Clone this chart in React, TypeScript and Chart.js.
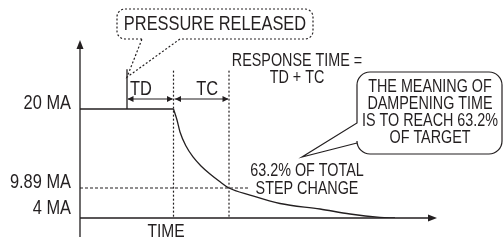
import React, { useEffect, useRef } from 'react';
import { Chart, LinearScale, registerables } from 'chart.js';

// ---------------- data ----------------
const Y_TICK_VALUES = [4, 9.89, 20];
const Y_TICK_LABELS = ['4 MA', '9.89 MA', '20 MA'];
const Y_MIN = 3;
const Y_MAX = 29;
const X_MIN = 0;
const X_MAX = 7.14;

const HIGH_MA = 20;
const TARGET_MA = 9.89;
const T_RELEASE = 0.94;
const T_TD_END = 1.87;
const T_TC_END = 2.98;
const T_TARGET_LINE_END = 3.36;
const MARKER_TOP_MA = 25.2;
const DIM_ARROW_MA = 21.3;

const FLAT_TIME = [0, 1.87];
const FLAT_MA = [20, 20];
const DECAY_TIME = [1.87, 1.94, 2.0, 2.12, 2.26, 2.42, 2.6, 2.78, 2.98, 3.4, 4.0, 4.8, 5.4, 6.0, 6.3];
const DECAY_MA = [20, 18.59, 17.06, 15.26, 13.86, 12.71, 11.68, 10.79, 9.89, 8.3, 6.38, 5.13, 4.0, 3.18, 3.0];

const BUBBLE_LINES = ['THE MEANING OF', 'DAMPENING TIME', 'IS TO REACH 63.2%', 'OF TARGET'];
const STEP_LINES = ['63.2% OF TOTAL', 'STEP CHANGE'];
const RESPONSE_LINES = ['RESPONSE TIME =', 'TD + TC'];

// ---------------- styling / schematic scale ----------------
const FONT = "'Liberation Sans', Arial, sans-serif";
const NARROW = 0.82; // condensed face emulation
const INK = '#231f20';
const KNOT_VALUES = [3, 4, 9.89, 20, 29];
const KNOT_FRACS = [0, 4 / 178, 30 / 178, 109 / 178, 1];

function valueToFrac(v: number) {
  const n = KNOT_VALUES.length;
  if (v <= KNOT_VALUES[0]) return KNOT_FRACS[0] + (v - KNOT_VALUES[0]) * (KNOT_FRACS[1] - KNOT_FRACS[0]) / (KNOT_VALUES[1] - KNOT_VALUES[0]);
  for (let i = 1; i < n; i++) {
    if (v <= KNOT_VALUES[i] || i === n - 1) {
      const t = (v - KNOT_VALUES[i - 1]) / (KNOT_VALUES[i] - KNOT_VALUES[i - 1]);
      return KNOT_FRACS[i - 1] + t * (KNOT_FRACS[i] - KNOT_FRACS[i - 1]);
    }
  }
  return 1;
}
function fracToValue(f: number) {
  const n = KNOT_FRACS.length;
  for (let i = 1; i < n; i++) {
    if (f <= KNOT_FRACS[i] || i === n - 1) {
      const t = (f - KNOT_FRACS[i - 1]) / (KNOT_FRACS[i] - KNOT_FRACS[i - 1]);
      return KNOT_VALUES[i - 1] + t * (KNOT_VALUES[i] - KNOT_VALUES[i - 1]);
    }
  }
  return KNOT_VALUES[n - 1];
}

class SchematicScale extends LinearScale {
  static id = 'schematic';
  static defaults = LinearScale.defaults;
  getPixelForValue(value: any) {
    if (value === null || value === undefined || isNaN(value)) return NaN;
    return this.getPixelForDecimal(valueToFrac(value));
  }
  getValueForPixel(pixel: number) {
    return fracToValue(this.getDecimalForPixel(pixel));
  }
}

Chart.register(...registerables, SchematicScale as any);

function pts(xs: number[], ys: number[]) {
  return xs.map((x, i) => ({ x, y: ys[i] }));
}

function arrowHead(ctx: CanvasRenderingContext2D, tx: number, ty: number, dx: number, dy: number, len: number, half: number) {
  const px = -dy, py = dx;
  ctx.beginPath();
  ctx.moveTo(tx, ty);
  ctx.lineTo(tx - dx * len + px * half, ty - dy * len + py * half);
  ctx.lineTo(tx - dx * len - px * half, ty - dy * len - py * half);
  ctx.closePath();
  ctx.fill();
}

function text(ctx: CanvasRenderingContext2D, s: string, x: number, y: number, size: number, align: CanvasTextAlign = 'center') {
  ctx.save();
  ctx.font = `${size}px ${FONT}`;
  ctx.textAlign = align;
  ctx.textBaseline = 'middle';
  ctx.translate(x, y);
  ctx.scale(NARROW, 1);
  ctx.fillText(s, 0, 0);
  ctx.restore();
}

const diagramPlugin = {
  id: 'diagram',
  afterDatasetsDraw(chart: any) {
    const { ctx, chartArea: a, scales } = chart;
    const xs = scales.x, ys = scales.y;
    ctx.save();
    ctx.strokeStyle = INK;
    ctx.fillStyle = INK;
    ctx.lineWidth = 1.3;
    ctx.setLineDash([]);

    // y tick labels (condensed), positioned by the y scale
    ys.ticks.forEach((t: any, i: number) => {
      text(ctx, Y_TICK_LABELS[i], a.left - 9, ys.getPixelForValue(t.value) - 6, 20, 'right');
    });

    // axes
    ctx.beginPath();
    ctx.moveTo(a.left, a.top + 4);
    ctx.lineTo(a.left, a.bottom + 19);
    ctx.moveTo(a.left, a.bottom);
    ctx.lineTo(a.right - 4, a.bottom);
    ctx.stroke();
    arrowHead(ctx, a.left, a.top, 0, -1, 9, 3.5);
    arrowHead(ctx, a.right, a.bottom, 1, 0, 9, 3.5);

    // dimension arrows TD / TC
    const yDim = ys.getPixelForValue(DIM_ARROW_MA);
    const xR = xs.getPixelForValue(T_RELEASE);
    const xD = xs.getPixelForValue(T_TD_END);
    const xC = xs.getPixelForValue(T_TC_END);
    ctx.lineWidth = 1.1;
    ctx.beginPath();
    ctx.moveTo(xR + 1, yDim);
    ctx.lineTo(xD - 1, yDim);
    ctx.moveTo(xD + 1, yDim);
    ctx.lineTo(xC - 1, yDim);
    ctx.stroke();
    arrowHead(ctx, xR + 0.5, yDim, -1, 0, 6, 3);
    arrowHead(ctx, xD - 0.5, yDim, 1, 0, 6, 3);
    arrowHead(ctx, xD + 1.5, yDim, -1, 0, 6, 3);
    arrowHead(ctx, xC - 0.5, yDim, 1, 0, 6, 3);

    text(ctx, 'TD', xR + 14, yDim - 10, 20);
    text(ctx, 'TC', (xD + xC) / 2 + 6, yDim - 10, 20);

    // PRESSURE RELEASED dotted callout
    {
      const L = 117, R = 313, T = 9, B = 39, r = 8;
      const tipX = xR, tipY = ys.getPixelForValue(MARKER_TOP_MA) + 8;
      ctx.setLineDash([2, 2]);
      ctx.lineWidth = 1.2;
      ctx.beginPath();
      ctx.moveTo(142, B);
      ctx.lineTo(L + r, B);
      ctx.arcTo(L, B, L, B - r, r);
      ctx.lineTo(L, T + r);
      ctx.arcTo(L, T, L + r, T, r);
      ctx.lineTo(R - r, T);
      ctx.arcTo(R, T, R, T + r, r);
      ctx.lineTo(R, B - r);
      ctx.arcTo(R, B, R - r, B, r);
      ctx.lineTo(180, B);
      ctx.lineTo(tipX, tipY);
      ctx.lineTo(142, B);
      ctx.stroke();
      ctx.setLineDash([]);
      text(ctx, 'PRESSURE RELEASED', (L + R) / 2, 24, 20);
    }

    // response time text
    text(ctx, RESPONSE_LINES[0], 297, 61, 17.5);
    text(ctx, RESPONSE_LINES[1], 297, 78, 17.5);

    // speech bubble
    {
      const L = 357, R = 502, T = 72, B = 154, r = 13;
      const tipX = 302, tipY = 157;
      ctx.lineWidth = 1.2;
      ctx.beginPath();
      ctx.moveTo(L, 143);
      ctx.lineTo(L, B - r);
      ctx.arcTo(L, B, L + r, B, r);
      ctx.lineTo(R - r, B);
      ctx.arcTo(R, B, R, B - r, r);
      ctx.lineTo(R, T + r);
      ctx.arcTo(R, T, R - r, T, r);
      ctx.lineTo(L + r, T);
      ctx.arcTo(L, T, L, T + r, r);
      ctx.lineTo(L, 123);
      ctx.lineTo(tipX, tipY);
      ctx.lineTo(L, 143);
      ctx.stroke();
      BUBBLE_LINES.forEach((s, i) => text(ctx, s, 430, 87 + i * 17, 17.5));
    }

    // step change text
    STEP_LINES.forEach((s, i) => text(ctx, s, 307, 171 + i * 18.5, 17.5));

    // x axis title
    text(ctx, 'TIME', 166, 232, 19);
    ctx.restore();
  },
};

export default function App() {
  const ref = useRef<HTMLCanvasElement | null>(null);
  useEffect(() => {
    if (!ref.current) return;
    const lineBase = { borderColor: INK, pointRadius: 0, fill: false, tension: 0 };
    const chart = new Chart(ref.current, {
      type: 'line',
      data: {
        datasets: [
          { ...lineBase, label: 'before', data: pts(FLAT_TIME, FLAT_MA), borderWidth: 1.4 },
          { ...lineBase, label: 'decay', data: pts(DECAY_TIME, DECAY_MA), borderWidth: 1.3, cubicInterpolationMode: 'monotone' },
          { ...lineBase, label: 'target', data: [{ x: X_MIN, y: TARGET_MA }, { x: T_TARGET_LINE_END, y: TARGET_MA }], borderWidth: 1.2, borderDash: [3, 2] },
          { ...lineBase, label: 'td', data: [{ x: T_TD_END, y: MARKER_TOP_MA - 0.2 }, { x: T_TD_END, y: Y_MIN }], borderWidth: 1.2, borderDash: [2, 2] },
          { ...lineBase, label: 'tc', data: [{ x: T_TC_END, y: MARKER_TOP_MA - 0.2 }, { x: T_TC_END, y: Y_MIN }], borderWidth: 1.2, borderDash: [2, 2] },
          { ...lineBase, label: 'release', data: [{ x: T_RELEASE, y: HIGH_MA }, { x: T_RELEASE, y: MARKER_TOP_MA }], borderWidth: 1.3 },
        ] as any,
      },
      options: {
        animation: false,
        responsive: false,
        devicePixelRatio: 1,
        layout: { padding: { left: 0, top: 40, right: 66, bottom: 22 } },
        plugins: { legend: { display: false }, tooltip: { enabled: false } },
        scales: {
          x: { type: 'linear', min: X_MIN, max: X_MAX, display: false },
          y: {
            type: 'schematic' as any,
            min: Y_MIN,
            max: Y_MAX,
            grid: { display: false, drawTicks: false },
            border: { display: false },
            afterFit: (s: any) => { s.width = 80; },
            afterBuildTicks: (s: any) => { s.ticks = Y_TICK_VALUES.map((v) => ({ value: v })); },
            ticks: { display: false, autoSkip: false },
          } as any,
        },
      },
      plugins: [diagramPlugin],
    } as any);
    return () => chart.destroy();
  }, []);
  return (
    <div style={{ position: 'absolute', left: 0, top: 0, width: 503, height: 240, background: '#fff' }}>
      <canvas ref={ref} width={503} height={240} style={{ display: 'block' }} />
    </div>
  );
}
